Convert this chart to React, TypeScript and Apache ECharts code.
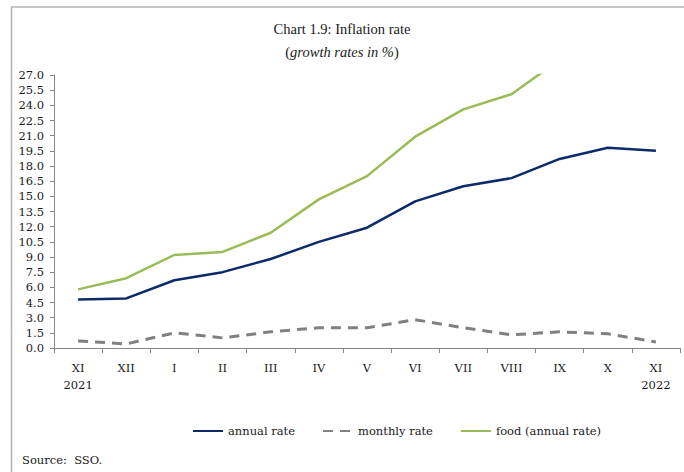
import React, { useEffect, useRef } from "react";
import * as echarts from "echarts";

const categories = ["XI\n2021", "XII", "I", "II", "III", "IV", "V", "VI", "VII", "VIII", "IX", "X", "XI\n2022"];
const annualRate = [4.8, 4.9, 6.7, 7.5, 8.8, 10.5, 11.9, 14.5, 16.0, 16.8, 18.7, 19.8, 19.5];
const monthlyRate = [0.7, 0.4, 1.5, 1.0, 1.6, 2.0, 2.0, 2.8, 2.0, 1.3, 1.6, 1.4, 0.6];
const foodRate = [5.8, 6.9, 9.2, 9.5, 11.4, 14.7, 17.0, 20.9, 23.6, 25.1, 28.5, null, null];

const SERIF = "DejaVu Serif";
const TITLE_FONT = "Liberation Serif";

export default function App() {
  const ref = useRef<HTMLDivElement>(null);
  useEffect(() => {
    if (!ref.current) return;
    const chart = echarts.init(ref.current, null, { renderer: "svg" });
    chart.setOption({
      animation: false,
      backgroundColor: "#ffffff",
      title: [
        {
          text: "Chart 1.9: Inflation rate",
          left: "center",
          top: 16,
          textStyle: { fontFamily: TITLE_FONT, fontSize: 14.5, fontWeight: "normal", color: "#1a1a1a" },
        },
        {
          text: "{p|(}{i|growth rates in %}{p|)}",
          left: "center",
          top: 39,
          textStyle: {
            fontWeight: "normal",
            rich: {
              p: { fontFamily: TITLE_FONT, fontSize: 14.5, fontWeight: "normal", color: "#1a1a1a" },
              i: { fontFamily: TITLE_FONT, fontSize: 14.5, fontWeight: "normal", fontStyle: "italic", color: "#1a1a1a" },
            },
          },
        },
      ],
      graphic: [
        { type: "line", shape: { x1: 11, y1: 7, x2: 684, y2: 7 }, style: { stroke: "#b4b4b4", lineWidth: 1.5 } },
        { type: "line", shape: { x1: 11.5, y1: 7, x2: 11.5, y2: 472 }, style: { stroke: "#b4b4b4", lineWidth: 1.5 } },
        {
          type: "text",
          left: 22,
          top: 454,
          style: { text: "Source:  SSO.", fontFamily: SERIF, fontSize: 11.5, fill: "#1a1a1a" },
        },
      ],
      legend: {
        left: 187,
        top: 420,
        itemWidth: 30,
        itemHeight: 14,
        itemGap: 27,
        itemStyle: { opacity: 0 },
        textStyle: { fontFamily: SERIF, fontSize: 11.5, color: "#1a1a1a" },
        data: ["annual rate", "monthly rate", "food (annual rate)"],
      },
      grid: { left: 54, right: 4, top: 75, bottom: 124, containLabel: false },
      xAxis: {
        type: "category",
        data: categories,
        boundaryGap: true,
        axisLine: { lineStyle: { color: "#868686", width: 1 } },
        axisTick: { show: true, length: 5, alignWithLabel: false, lineStyle: { color: "#868686" } },
        axisLabel: {
          interval: 0,
          margin: 11,
          fontFamily: SERIF,
          fontSize: 11.5,
          lineHeight: 17,
          color: "#1a1a1a",
          verticalAlign: "top",
        },
        splitLine: { show: false },
      },
      yAxis: {
        type: "value",
        min: 0,
        max: 27,
        interval: 1.5,
        axisLine: { show: true, lineStyle: { color: "#868686", width: 1 } },
        axisTick: { show: true, length: 4, lineStyle: { color: "#868686" } },
        axisLabel: {
          margin: 10,
          fontFamily: SERIF,
          fontSize: 11.5,
          color: "#1a1a1a",
          formatter: (v: number) => v.toFixed(1),
        },
        splitLine: { show: false },
      },
      series: [
        {
          name: "annual rate",
          type: "line",
          data: annualRate,
          symbol: "none",
          lineStyle: { color: "#0c2a6a", width: 2.5 },
          itemStyle: { color: "#0c2a6a" },
        },
        {
          name: "monthly rate",
          type: "line",
          data: monthlyRate,
          symbol: "none",
          lineStyle: { color: "#808080", width: 3, type: [10, 7] },
          itemStyle: { color: "#808080" },
        },
        {
          name: "food (annual rate)",
          type: "line",
          data: foodRate,
          symbol: "none",
          clip: true,
          lineStyle: { color: "#9bbb59", width: 2.5 },
          itemStyle: { color: "#9bbb59" },
        },
      ],
    });
    return () => chart.dispose();
  }, []);
  return <div ref={ref} style={{ width: 684, height: 472, position: "absolute", left: 0, top: 0 }} />;
}
